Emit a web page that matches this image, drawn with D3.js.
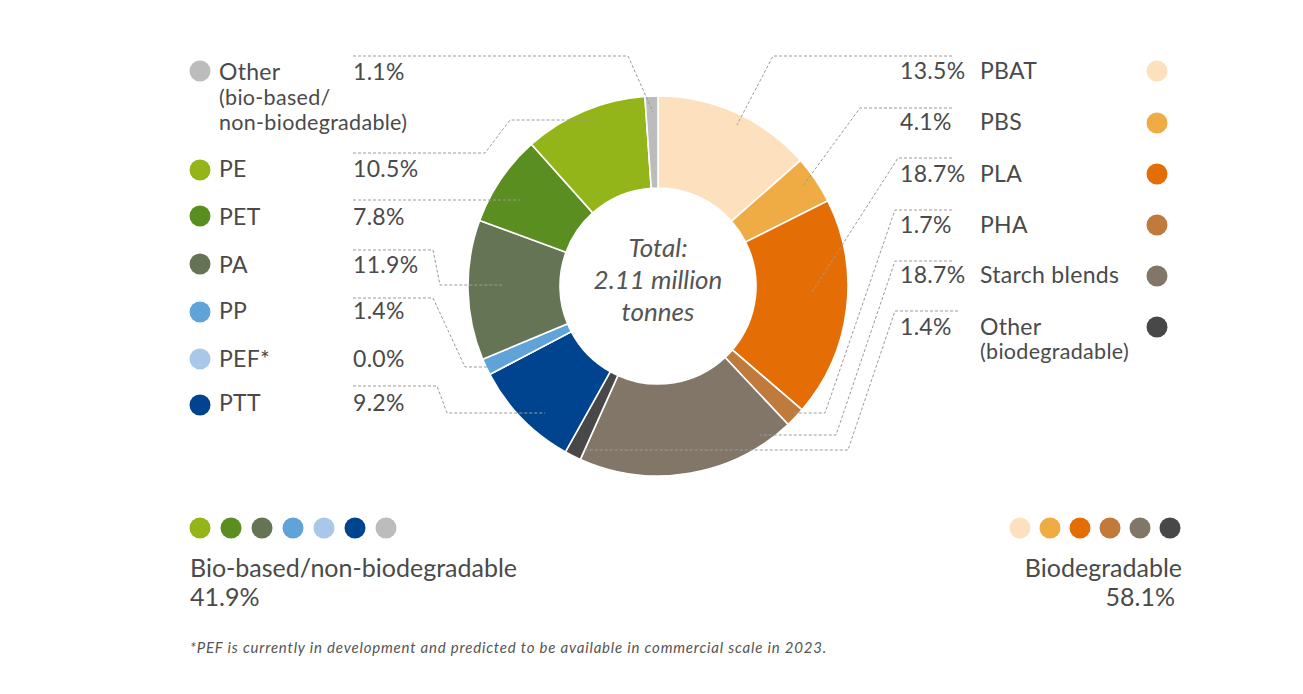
<!DOCTYPE html>
<html>
<head>
<meta charset="utf-8">
<script src="https://cdn.jsdelivr.net/npm/d3@7/dist/d3.min.js"></script>
<style>
  html, body { margin: 0; padding: 0; background: #fff; }
  svg { display: block; }
  text { font-family: Lato, "Open Sans", sans-serif; fill: #4a4a4a; }
</style>
</head>
<body>
<svg id="chart" width="1303" height="694"></svg>
<script>
// ---------------- DATA ----------------
const categories = ["PBAT", "PBS", "PLA", "PHA", "Starch blends", "Other (biodegradable)",
  "PTT", "PEF*", "PP", "PA", "PET", "PE", "Other (bio-based/non-biodegradable)"];
const shares = [13.5, 4.1, 18.7, 1.7, 18.7, 1.4, 9.2, 0.0, 1.4, 11.9, 7.8, 10.5, 1.1];
const groups = ["bio", "bio", "bio", "bio", "bio", "bio",
  "nonbio", "nonbio", "nonbio", "nonbio", "nonbio", "nonbio", "nonbio"];
const colors = ["#fde1bf", "#f0ac44", "#e46e05", "#bf7a3c", "#827669", "#484848",
  "#00448f", "#a9c7e9", "#5fa3d8", "#657454", "#5a8e21", "#94b519", "#bcbcbc"];
const groupNames = { nonbio: "Bio-based/non-biodegradable", bio: "Biodegradable" };
const totalLines = ["Total:", "2.11 million", "tonnes"];
const footnote = "*PEF is currently in development and predicted to be available in commercial scale in 2023.";

// legend order (indices into categories)
const leftOrder = [12, 11, 10, 9, 8, 7, 6];
const rightOrder = [0, 1, 2, 3, 4, 5];
const bottomLeftOrder = [11, 10, 9, 8, 7, 6, 12];
const bottomRightOrder = [0, 1, 2, 3, 4, 5];

// ---------------- LAYOUT ----------------
const cx = 658, cy = 286, rOuter = 190, rInner = 98;
const leftRowsY = [80, 177, 225, 273, 319, 367, 411];   // baselines
const leftDotY = [71, 170, 216, 264, 312, 359, 405];
const rightRowsY = [79, 130, 182, 233, 283, 335];
const rightDotY = [71, 123, 174, 225, 276, 327];
// leader routes (layout of annotation lines), keyed by category index
const leaders = {
  12: [[353, 56], [628, 56], [653, 112]],
  11: [[353, 153], [485, 153], [510, 120], [593, 120]],
  10: [[353, 200], [520, 200]],
  9:  [[353, 250], [433, 250], [440, 285], [502, 285]],
  8:  [[353, 298], [433, 298], [465, 367], [488, 367]],
  6:  [[353, 386], [437, 386], [447, 413], [545, 413]],
  0:  [[952, 56], [773, 56], [737, 125]],
  1:  [[952, 108], [860, 108], [802, 187]],
  2:  [[952, 158], [898, 158], [812, 292]],
  3:  [[952, 210], [895, 210], [825, 413], [793, 413]],
  4:  [[952, 261], [895, 261], [836, 435], [760, 435]],
  5:  [[958, 311], [895, 311], [848, 450], [583, 450]]
};

const fmt = d3.format(".1f");
const svg = d3.select("#chart");
const data = categories.map((c, i) => ({ name: c, share: shares[i], group: groups[i], color: colors[i], i }));

// ---------------- DONUT ----------------
const pie = d3.pie().sort(null).value(d => d.share).startAngle(0).endAngle(2 * Math.PI);
const arc = d3.arc().innerRadius(rInner).outerRadius(rOuter);
const g = svg.append("g").attr("transform", `translate(${cx},${cy})`);
g.selectAll("path.slice").data(pie(data)).join("path")
  .attr("class", "slice")
  .attr("d", arc)
  .attr("fill", d => d.data.color)
  .attr("stroke", "#fff")
  .attr("stroke-width", 1.6);

// center text
const ct = svg.append("text").attr("text-anchor", "middle")
  .style("font-style", "italic").style("font-size", "26px").style("fill", "#555");
[257, 289, 321].forEach((y, k) => ct.append("tspan").attr("x", cx).attr("y", y).text(totalLines[k]));

// ---------------- LEADERS ----------------
const line = d3.line();
Object.entries(leaders).forEach(([k, pts]) => {
  svg.append("path").attr("d", line(pts)).attr("fill", "none")
    .attr("stroke", "#9b9b9b").attr("stroke-width", 1).attr("stroke-dasharray", "3,2");
});

// ---------------- SIDE LEGENDS ----------------
const labelSize = "23px", subSize = "21.5px";
const txt = (x, y, s, size, ls = "0.3px") => svg.append("text").attr("x", x).attr("y", y)
  .style("font-size", size).style("letter-spacing", ls).text(s);

leftOrder.forEach((idx, k) => {
  const d = data[idx];
  svg.append("circle").attr("cx", 200).attr("cy", leftDotY[k]).attr("r", 10.5).attr("fill", d.color);
  if (idx === 12) {
    txt(219, leftRowsY[k], "Other", labelSize);
    txt(219, leftRowsY[k] + 25, "(bio-based/", subSize);
    txt(219, leftRowsY[k] + 50, "non-biodegradable)", subSize);
  } else {
    txt(219, leftRowsY[k], d.name, labelSize);
  }
  txt(353, leftRowsY[k], fmt(d.share) + "%", labelSize);
});

rightOrder.forEach((idx, k) => {
  const d = data[idx];
  svg.append("circle").attr("cx", 1157).attr("cy", rightDotY[k]).attr("r", 10.5).attr("fill", d.color);
  txt(900, rightRowsY[k], fmt(d.share) + "%", labelSize);
  if (idx === 5) {
    txt(980, rightRowsY[k], "Other", labelSize);
    txt(980, rightRowsY[k] + 24, "(biodegradable)", subSize);
  } else {
    txt(980, rightRowsY[k], d.name, labelSize);
  }
});

// ---------------- BOTTOM GROUP LEGENDS ----------------
const sumBy = grp => d3.sum(data.filter(d => d.group === grp), d => d.share);
bottomLeftOrder.forEach((idx, k) => {
  svg.append("circle").attr("cx", 200 + k * 31).attr("cy", 528).attr("r", 10.5).attr("fill", data[idx].color);
});
bottomRightOrder.forEach((idx, k) => {
  svg.append("circle").attr("cx", 1020 + k * 30).attr("cy", 528).attr("r", 10.5).attr("fill", data[idx].color);
});
const big = "25px";
txt(190, 577, groupNames.nonbio, big, "0px");
txt(190, 606, fmt(sumBy("nonbio")) + "%", big, "0px");
txt(1182, 577, groupNames.bio, big, "0px").attr("text-anchor", "end");
txt(1175, 606, fmt(sumBy("bio")) + "%", big, "0px").attr("text-anchor", "end");

// footnote
svg.append("text").attr("x", 190).attr("y", 653).style("font-size", "15px").style("font-style", "italic")
  .style("letter-spacing", "0.8px").style("fill", "#555").text(footnote);
</script>
</body>
</html>
